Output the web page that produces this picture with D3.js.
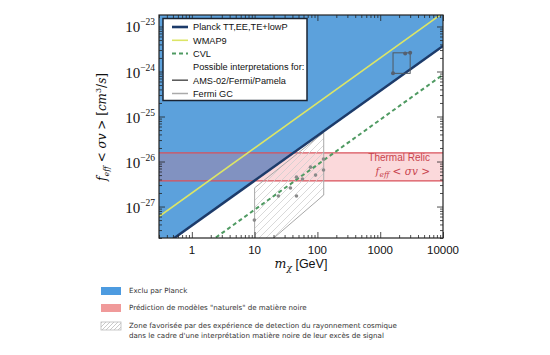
<!DOCTYPE html>
<html><head><meta charset="utf-8">
<script src="https://cdn.jsdelivr.net/npm/d3@7"></script>
<style>body{margin:0;background:#fff;} svg{display:block;}</style>
</head><body>
<svg id="chart" width="550" height="355"></svg>
<script>
// ---------- data ----------
const massDomain = [0.3, 10000];
const sigmaDomain = [2e-28, 1.8e-23];
const xTickValues = [1, 10, 100, 1000, 10000];
const xTickLabels = ["1", "10", "100", "1000", "10000"];
const yTickValues = [1e-27, 1e-26, 1e-25, 1e-24, 1e-23];
const yTickExponents = ["−27", "−26", "−25", "−24", "−23"];
const planckLine = [[0.3, 1.14e-28], [10000, 3.7e-24]];
const wmapLine = [[0.3, 6e-28], [10000, 2e-23]];
const cvlLine = [[0.3, 2.55e-29], [10000, 8.5e-25]];
const thermalBand = [3.7e-27, 1.55e-26];
const fermiRegion = [[10, 2.6e-27], [126, 4.4e-26], [126, 1.8e-27], [10, 8.6e-29]];
const fermiPoints = [[9.9, 5.0e-28], [23.9, 1.71e-27], [46.4, 1.71e-27], [37.2, 2.58e-27], [46.4, 4.5e-27],
  [57.8, 4.1e-27], [77.6, 7.5e-27], [93.4, 5.0e-27], [125, 6.5e-27], [125, 1.14e-26]];
const amsBox = [[1600, 9.1e-25], [3000, 2.6e-24]];
const amsPoints = [[1600, 9.1e-25], [2500, 2.5e-24], [3000, 2.6e-24]];
const legendLabels = ["Planck TT,EE,TE+lowP", "WMAP9", "CVL", "Possible interpretations for:", "AMS-02/Fermi/Pamela", "Fermi GC"];
const noteLabels = [
  ["Exclu par Planck"],
  ["Prédiction de modèles \"naturels\" de matière noire"],
  ["Zone favorisée par des expérience de detection du rayonnement cosmique",
   "dans le cadre d'une interprétation matière noire de leur excès de signal"]
];

// ---------- layout ----------
const L = 159, R = 443, T = 15, B = 238;
const svg = d3.select("#chart");
const x = d3.scaleLog().domain(massDomain).range([L, R]);
const y = d3.scaleLog().domain(sigmaDomain).range([B, T]);

const defs = svg.append("defs");
defs.append("clipPath").attr("id", "clip").append("rect")
  .attr("x", L).attr("y", T).attr("width", R - L).attr("height", B - T);
const pat = defs.append("pattern").attr("id", "hatch").attr("patternUnits", "userSpaceOnUse")
  .attr("width", 7).attr("height", 7);
pat.append("path").attr("d", "M-1,1 l2,-2 M0,7 l7,-7 M6,8 l2,-2")
  .attr("stroke", "#cfcfcf").attr("stroke-width", 0.8);
const pat2 = defs.append("pattern").attr("id", "hatch2").attr("patternUnits", "userSpaceOnUse")
  .attr("width", 4).attr("height", 4);
pat2.append("path").attr("d", "M-1,1 l2,-2 M0,4 l4,-4 M3,5 l2,-2")
  .attr("stroke", "#bdbdbd").attr("stroke-width", 0.8);

const plot = svg.append("g").attr("clip-path", "url(#clip)");
const line = d3.line().x(d => x(d[0])).y(d => y(d[1]));

// excluded region above Planck line
plot.append("path")
  .datum([planckLine[0], planckLine[1], [planckLine[1][0], sigmaDomain[1] * 10], [planckLine[0][0], sigmaDomain[1] * 10]])
  .attr("d", d => line(d) + "Z").attr("fill", "#5ca1dc");

// thermal relic band
plot.append("rect").attr("x", L).attr("width", R - L)
  .attr("y", y(thermalBand[1])).attr("height", y(thermalBand[0]) - y(thermalBand[1]))
  .attr("fill", "rgba(238,105,110,0.25)");
thermalBand.forEach(v => plot.append("line").attr("x1", L).attr("x2", R)
  .attr("y1", y(v)).attr("y2", y(v)).attr("stroke", "#d9505a").attr("stroke-width", 1.3));

// Fermi GC region
plot.append("path").datum(fermiRegion).attr("d", d => line(d) + "Z")
  .attr("fill", "url(#hatch)").attr("stroke", "#a8a8a8").attr("stroke-width", 1);

// lines
plot.append("path").datum(wmapLine).attr("d", line).attr("fill", "none")
  .attr("stroke", "#dce566").attr("stroke-width", 1.6);
plot.append("path").datum(cvlLine).attr("d", line).attr("fill", "none")
  .attr("stroke", "#4f9a62").attr("stroke-width", 2).attr("stroke-dasharray", "4,3");
plot.append("path").datum(planckLine).attr("d", line).attr("fill", "none")
  .attr("stroke", "#1c3b6a").attr("stroke-width", 2.5);

// AMS box & points
plot.append("rect").attr("x", x(amsBox[0][0])).attr("y", y(amsBox[1][1]))
  .attr("width", x(amsBox[1][0]) - x(amsBox[0][0])).attr("height", y(amsBox[0][1]) - y(amsBox[1][1]))
  .attr("fill", "none").attr("stroke", "#505860").attr("stroke-width", 1);
plot.selectAll(".ams").data(amsPoints).enter().append("circle")
  .attr("cx", d => x(d[0])).attr("cy", d => y(d[1])).attr("r", 2).attr("fill", "#556070");
plot.selectAll(".gc").data(fermiPoints).enter().append("circle")
  .attr("cx", d => x(d[0])).attr("cy", d => y(d[1])).attr("r", 1.8).attr("fill", "#8a8a8a");

// thermal relic text
svg.append("text").attr("x", 430).attr("y", 161).attr("text-anchor", "end")
  .attr("font-family", "Liberation Sans, sans-serif").attr("font-size", 10).attr("fill", "#c8444e")
  .text("Thermal Relic");
const tr = svg.append("text").attr("x", 430).attr("y", 175).attr("text-anchor", "end")
  .attr("font-family", "DejaVu Serif, serif").attr("font-size", 10.5).attr("fill", "#c8444e");
tr.append("tspan").attr("font-style", "italic").text("f");
tr.append("tspan").attr("font-style", "italic").attr("font-size", 7.5).attr("dy", 2).text("eff");
tr.append("tspan").attr("dy", -2).text(" < ");
tr.append("tspan").attr("font-style", "italic").text("σv");
tr.append("tspan").text(" >");

// ---------- axes (ticks inward) ----------
function minorTicks(domain) {
  const out = [];
  for (let e = Math.floor(Math.log10(domain[0])); e <= Math.ceil(Math.log10(domain[1])); e++)
    for (let k = 2; k <= 9; k++) { const v = k * Math.pow(10, e); if (v >= domain[0] && v <= domain[1]) out.push(v); }
  return out;
}
const xMinor = minorTicks(massDomain), yMinor = minorTicks(sigmaDomain);
function axisGroup(gen, tr, values, size) {
  const g = svg.append("g").attr("transform", tr)
    .call(gen.tickValues(values).tickSize(size).tickFormat(""));
  g.select(".domain").remove();
  g.selectAll("line").attr("stroke", "#222").attr("stroke-width", 0.8);
}
axisGroup(d3.axisBottom(x), `translate(0,${B})`, xTickValues, -6);
axisGroup(d3.axisBottom(x), `translate(0,${B})`, xMinor, -3);
axisGroup(d3.axisTop(x), `translate(0,${T})`, xTickValues, -6);
axisGroup(d3.axisTop(x), `translate(0,${T})`, xMinor, -3);
axisGroup(d3.axisLeft(y), `translate(${L},0)`, yTickValues, -6);
axisGroup(d3.axisLeft(y), `translate(${L},0)`, yMinor, -3);
axisGroup(d3.axisRight(y), `translate(${R},0)`, yTickValues, -6);
axisGroup(d3.axisRight(y), `translate(${R},0)`, yMinor, -3);
svg.append("rect").attr("x", L).attr("y", T).attr("width", R - L).attr("height", B - T)
  .attr("fill", "none").attr("stroke", "#222").attr("stroke-width", 1.2);

// x tick labels
svg.selectAll(".xl").data(xTickValues).enter().append("text")
  .attr("x", d => x(d)).attr("y", 254).attr("text-anchor", "middle")
  .attr("font-family", "Liberation Sans, sans-serif").attr("font-size", 11.5).attr("fill", "#111")
  .text((d, i) => xTickLabels[i]);
// y tick labels
yTickValues.forEach((v, i) => {
  const t = svg.append("text").attr("x", 155).attr("y", y(v) + 6).attr("text-anchor", "end")
    .attr("font-family", "Liberation Serif, serif").attr("font-size", 15).attr("fill", "#111");
  t.append("tspan").text("10");
  t.append("tspan").attr("font-size", 9.5).attr("dy", -7).text(yTickExponents[i]);
});

// axis titles
const xt = svg.append("text").attr("x", 301).attr("y", 268).attr("text-anchor", "middle")
  .attr("font-size", 12.5).attr("fill", "#111");
xt.append("tspan").attr("font-family", "DejaVu Serif, serif").attr("font-style", "italic").text("m");
xt.append("tspan").attr("font-family", "DejaVu Serif, serif").attr("font-style", "italic")
  .attr("font-size", 9).attr("dy", 3).text("χ");
xt.append("tspan").attr("font-family", "Liberation Sans, sans-serif").attr("dy", -3).text(" [GeV]");

const yt = svg.append("text").attr("transform", "translate(106,127) rotate(-90)").attr("text-anchor", "middle")
  .attr("font-family", "DejaVu Serif, serif").attr("font-size", 12).attr("fill", "#111");
yt.append("tspan").attr("font-style", "italic").text("f");
yt.append("tspan").attr("font-style", "italic").attr("font-size", 8).attr("dy", 3).text("eff");
yt.append("tspan").attr("dy", -3).text(" < ");
yt.append("tspan").attr("font-style", "italic").text("σv");
yt.append("tspan").text(" > [");
yt.append("tspan").attr("font-style", "italic").text("cm");
yt.append("tspan").attr("font-size", 8).attr("dy", -5).text("3");
yt.append("tspan").attr("dy", 5).text("/");
yt.append("tspan").attr("font-style", "italic").text("s");
yt.append("tspan").text("]");

// ---------- legend ----------
const lg = svg.append("g");
lg.append("rect").attr("x", 163).attr("y", 18.5).attr("width", 144).attr("height", 82)
  .attr("fill", "#fff").attr("stroke", "#1a2433").attr("stroke-width", 1.5);
const legStyles = [
  { c: "#1c3b6a", w: 2.6, d: null }, { c: "#dce566", w: 1.6, d: null }, { c: "#4f9a62", w: 2, d: "4,3" },
  null, { c: "#555", w: 1.5, d: null }, { c: "#aaa", w: 1.5, d: null }
];
legendLabels.forEach((lab, i) => {
  const yy = 27 + i * 13.3;
  const s = legStyles[i];
  if (s) lg.append("line").attr("x1", 172).attr("x2", 188).attr("y1", yy).attr("y2", yy)
    .attr("stroke", s.c).attr("stroke-width", s.w).attr("stroke-dasharray", s.d);
  lg.append("text").attr("x", 193).attr("y", yy + 3.3)
    .attr("font-family", "Liberation Sans, sans-serif").attr("font-size", 9.2).attr("fill", "#111").text(lab);
});

// ---------- notes below ----------
const notes = svg.append("g");
const sw = [{ y: 287, f: "#4d9be0" }, { y: 304, f: "#f09a9a" }, { y: 322, f: "url(#hatch2)" }];
sw.forEach((s, i) => {
  notes.append("rect").attr("x", 101).attr("y", s.y).attr("width", 20).attr("height", 8)
    .attr("fill", s.f).attr("stroke", i === 2 ? "#bbb" : "none").attr("stroke-width", 0.8);
  noteLabels[i].forEach((t, j) => notes.append("text").attr("x", 129).attr("y", s.y + 5.5 + j * 10)
    .attr("font-family", "DejaVu Sans, sans-serif").attr("font-size", 7.1).attr("fill", "#333").text(t));
});
</script>
</body></html>
